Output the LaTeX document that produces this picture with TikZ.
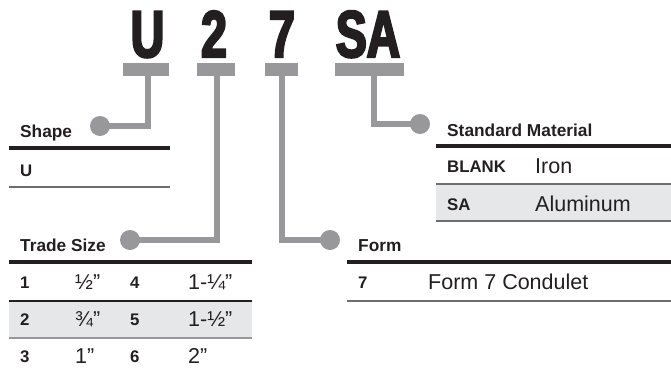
\documentclass[tikz,border=0pt]{standalone}
\usepackage{fontspec}
\setmainfont{Liberation Sans}
\newfontfamily\bigfont[FakeStretch=0.7,BoldFeatures={FakeBold=3.5}]{Liberation Sans}
\definecolor{stem}{HTML}{98989B}
\definecolor{rowbg}{HTML}{E6E7E8}
\definecolor{rulegray}{HTML}{6D6E71}
\definecolor{ink}{HTML}{231F20}
\begin{document}
\begin{tikzpicture}[x=1pt,y=-1pt,
  big/.style={font=\bigfont\bfseries\fontsize{66}{66}\selectfont, anchor=base, inner sep=0, text=ink},
  bar/.style={fill=stem, minimum height=13, inner sep=0},
  dot/.style={circle, fill=stem, minimum size=20, inner sep=0},
  conn/.style={draw=stem, line width=6},
  head/.style={font=\bfseries\fontsize{17.3}{19}\selectfont, anchor=base west, inner sep=0, text=ink},
  key/.style={font=\bfseries\fontsize{16.8}{18}\selectfont, anchor=base west, inner sep=0, text=ink},
  val/.style={font=\fontsize{21.5}{23}\selectfont, anchor=base west, inner sep=0, text=ink},
  thickrule/.style={draw=ink, line width=4},
  thinrule/.style={draw=rulegray, line width=1.2}]
\useasboundingbox (0,0) rectangle (671,372);

% big code letters
\node[big] (lU) at (147.5,57) {U};
\node[big] (l2) at (214,57) {2};
\node[big] (l7) at (282,57) {7};
\node[big] (lSA) at (368,57) {SA};

% bars
\node[bar, minimum width=46] (bU) at (146,69.5) {};
\node[bar, minimum width=38] (b2) at (216,69.5) {};
\node[bar, minimum width=33] (b7) at (281.5,69.5) {};
\node[bar, minimum width=69] (bSA) at (369.5,69.5) {};

% dots
\node[dot] (dU) at (100,126) {};
\node[dot] (d2) at (130,240) {};
\node[dot] (d7) at (330,240) {};
\node[dot] (dSA) at (420,124) {};

% connectors
\draw[conn] ([xshift=2]bU.south) |- (dU.center);
\draw[conn] ([xshift=1]b2.south) |- (d2.center);
\draw[conn] (b7.south) |- (d7.center);
\draw[conn] ([xshift=4]bSA.south) |- (dSA.center);

% Shape table
\node[head] (hShape) at (20,137) {Shape};
\draw[thickrule] (9,148) -- (170,148);
\node[key] (kU) at (20,176) {U};
\draw[thinrule] (9,187) -- (170,187);

% Trade Size table
\fill[rowbg] (9,301) rectangle (252,338);
\node[head] (hTrade) at (20,251) {Trade Size};
\draw[thickrule] (9,262) -- (252,262);
\node[key] (k1) at (20,288) {1};
\node[val] (v1) at (75,289) {½”};
\node[key] (k4) at (130,288) {4};
\node[val] (v4) at (188,289) {1-¼”};
\draw[draw=ink, line width=1.2] (9,301) -- (252,301);
\node[key] (k2) at (20,325) {2};
\node[val] (v2) at (75,326) {¾”};
\node[key] (k5) at (130,325) {5};
\node[val] (v5) at (188,326) {1-½”};
\draw[draw=stem, line width=1.5] (9,338) -- (252,338);
\node[key] (k3) at (20,362) {3};
\node[val] (v3) at (75,363) {1”};
\node[key] (k6) at (130,362) {6};
\node[val] (v6) at (188,363) {2”};

% Form table
\node[head] (hForm) at (358,251) {Form};
\draw[thickrule] (347,262) -- (671,262);
\node[key] (k7) at (358,288) {7};
\node[val] (vForm) at (428,289) {Form 7 Condulet};
\draw[thinrule] (347,301) -- (671,301);

% Standard Material table
\fill[rowbg] (436,184) rectangle (671,221);
\node[head] (hMat) at (447,136) {Standard Material};
\draw[thickrule] (436,146) -- (671,146);
\node[key] (kBlank) at (447,172) {BLANK};
\node[val] (vIron) at (535,173) {Iron};
\draw[thinrule] (436,184) -- (671,184);
\node[key] (kSA) at (447,210) {SA};
\node[val] (vAl) at (535,211) {Aluminum};
\draw[thinrule] (436,221) -- (671,221);
\end{tikzpicture}
\end{document}
